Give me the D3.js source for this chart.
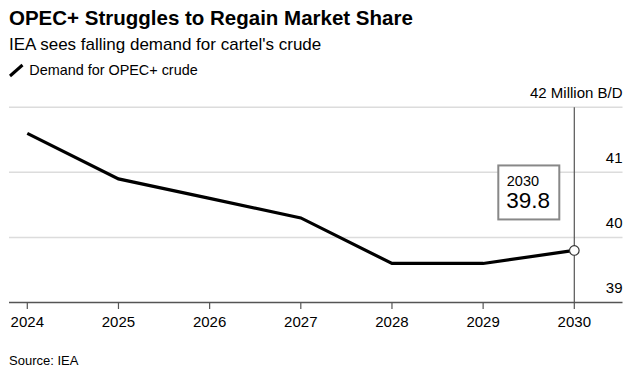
<!DOCTYPE html>
<html>
<head>
<meta charset="utf-8">
<script src="https://cdn.jsdelivr.net/npm/d3@7"></script>
<style>
  html, body { margin: 0; padding: 0; background: #fff; }
  svg { display: block; font-family: "Liberation Sans", Arial, Helvetica, sans-serif; }
</style>
</head>
<body>
<script>
const years = ["2024", "2025", "2026", "2027", "2028", "2029", "2030"];
const demand = [41.6, 40.9, 40.6, 40.3, 39.6, 39.6, 39.8];
const yTicks = [39, 40, 41, 42];
const yTickLabels = ["39", "40", "41", "42 Million B/D"];
const title = "OPEC+ Struggles to Regain Market Share";
const subtitle = "IEA sees falling demand for cartel's crude";
const legendLabel = "Demand for OPEC+ crude";
const source = "Source: IEA";

const W = 636, H = 376;
const svg = d3.select("body").append("svg").attr("width", W).attr("height", H);

const x = d3.scalePoint().domain(years).range([27.3, 574.3]);
const y = d3.scaleLinear().domain([39, 42]).range([302.5, 107.3]);
const gridLeft = 9, gridRight = 622.5;

// Title block
svg.append("text").attr("x", 9).attr("y", 25).attr("font-size", 20.5).attr("font-weight", "bold")
  .attr("fill", "#000").text(title);
svg.append("text").attr("x", 9).attr("y", 49.5).attr("font-size", 17).attr("fill", "#000").text(subtitle);
svg.append("line").attr("x1", 10).attr("y1", 76).attr("x2", 22.5).attr("y2", 65)
  .attr("stroke", "#000").attr("stroke-width", 3);
svg.append("text").attr("x", 29.3).attr("y", 74.5).attr("font-size", 14.4).attr("fill", "#000").text(legendLabel);

// Gridlines
svg.append("g").selectAll("line").data(yTicks.filter(d => d !== 39)).join("line")
  .attr("x1", gridLeft).attr("x2", gridRight)
  .attr("y1", d => y(d)).attr("y2", d => y(d))
  .attr("stroke", "#dcdcdc").attr("stroke-width", 1.5);

// Y labels
svg.append("g").selectAll("text").data(yTicks).join("text")
  .attr("x", gridRight).attr("y", d => y(d) - 9.5)
  .attr("text-anchor", "end").attr("font-size", 15).attr("fill", "#000")
  .text((d, i) => yTickLabels[i]);

// Vertical marker at last year
const last = years.length - 1;
svg.append("line").attr("x1", x(years[last])).attr("x2", x(years[last]))
  .attr("y1", y(42)).attr("y2", y(39))
  .attr("stroke", "#555").attr("stroke-width", 1.2);

// X axis
const xAxis = svg.append("g").attr("transform", `translate(0,${y(39)})`);
xAxis.append("line").attr("x1", gridLeft).attr("x2", gridRight).attr("y1", 0).attr("y2", 0)
  .attr("stroke", "#555").attr("stroke-width", 1.5);
xAxis.selectAll("line.tick").data(years).join("line").attr("class", "tick")
  .attr("x1", d => x(d)).attr("x2", d => x(d)).attr("y1", 0).attr("y2", 6.5)
  .attr("stroke", "#555").attr("stroke-width", 1.2);
xAxis.selectAll("text").data(years).join("text")
  .attr("x", d => x(d)).attr("y", 24.5).attr("text-anchor", "middle")
  .attr("font-size", 15).attr("fill", "#000").text(d => d);

// Line
const line = d3.line().x((d, i) => x(years[i])).y(d => y(d));
svg.append("path").datum(demand).attr("d", line)
  .attr("fill", "none").attr("stroke", "#000").attr("stroke-width", 3.2)
  .attr("stroke-linejoin", "miter");

// End point
const px = x(years[last]), py = y(demand[last]);
svg.append("circle").attr("cx", px).attr("cy", py).attr("r", 4.8)
  .attr("fill", "#fff").attr("stroke", "#333").attr("stroke-width", 1.2);

// Annotation box
const bw = 61, bh = 54;
const bx = px - 15 - bw, by = py - 31 - bh;
svg.append("rect").attr("x", bx).attr("y", by).attr("width", bw).attr("height", bh)
  .attr("fill", "#fff").attr("stroke", "#888").attr("stroke-width", 2);
svg.append("text").attr("x", bx + 8.5).attr("y", by + 20.5).attr("font-size", 14.5).attr("fill", "#000")
  .text(years[last]);
svg.append("text").attr("x", bx + 8).attr("y", by + 43).attr("font-size", 22.5).attr("fill", "#000")
  .text(demand[last].toFixed(1));

// Source
svg.append("text").attr("x", 9).attr("y", 365).attr("font-size", 13).attr("fill", "#000").text(source);
</script>
</body>
</html>
